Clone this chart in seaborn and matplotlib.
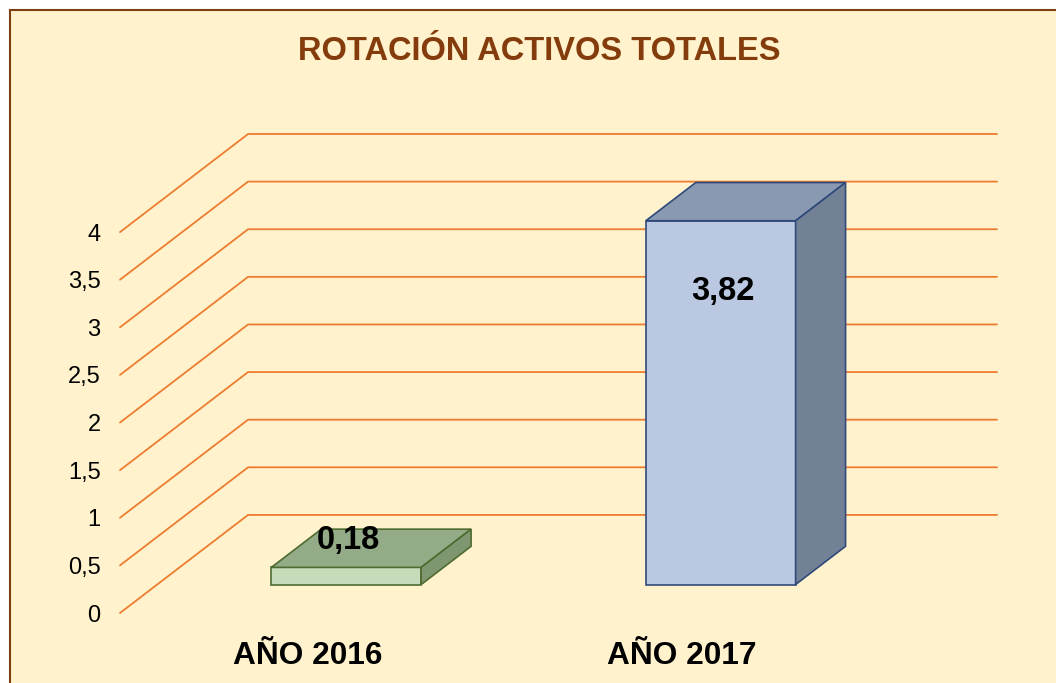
import numpy as np
import pandas as pd
import matplotlib
matplotlib.use("Agg")
import matplotlib.pyplot as plt
from matplotlib.patches import Polygon, Rectangle
import seaborn as sns

# data
categories = ["AÑO 2016", "AÑO 2017"]
values = [0.18, 3.82]
value_labels = ["0,18", "3,82"]
y_ticks = [0, 0.5, 1, 1.5, 2, 2.5, 3, 3.5, 4]
y_tick_labels = ["0", "0,5", "1", "1,5", "2", "2,5", "3", "3,5", "4"]

front_colors = ["#C5E0B4", "#B4C7E7"]
top_colors = ["#93AB86", "#8899B1"]
side_colors = ["#7F9771", "#738196"]
edge_colors = ["#4E6B30", "#2F4A7A"]

grid_color = "#ED7D31"
bg_color = "#FFF2CC"
title_color = "#843C0C"

sns.set_theme(style="white")
plt.rcParams["font.family"] = ["Liberation Sans", "DejaVu Sans"]

fig = plt.figure(figsize=(10.56, 6.83), dpi=100)
fig.patch.set_facecolor("white")
W, H = 1056, 683

# chart area frame (cropped at right / bottom)
fig.patches.append(Rectangle((9.5 / W, -0.1), 1.2, 1 - 10.5 / H + 0.1,
                             transform=fig.transFigure, facecolor=bg_color,
                             edgecolor="#7F3F12", linewidth=1.5, zorder=-5))

# perspective depth offset in data units
depth_x = 0.342
depth_y = 1.03
xmin, xmax = -0.5, 1.5 + depth_x

ax = fig.add_axes([120 / W, 1 - 613 / H, 877 / W, (613 - 134) / H])
ax.set_facecolor("none")
ax.set_zorder(2)

df = pd.DataFrame({"cat": categories, "val": values})
sns.barplot(data=df, x="cat", y="val", hue="cat", palette=front_colors,
            width=0.4, legend=False, ax=ax, zorder=3)

ax.set_xlim(xmin, xmax)
ax.set_ylim(0, 4 + depth_y)

# gridlines with slanted floor/wall part
for v in y_ticks:
    ax.plot([xmin, xmin + depth_x, xmax], [v, v + depth_y, v + depth_y],
            color=grid_color, linewidth=1.3, zorder=1, clip_on=False)

# 3D bars: shift front face into the depth, add top and side faces
f0 = 0.29    # front face position inside the depth
fd = 0.39    # bar depth
ox, oy = f0 * depth_x + 0.005, f0 * depth_y
dx, dy = fd * depth_x, fd * depth_y
for i, p in enumerate(ax.patches):
    x0 = p.get_x() + ox
    w = p.get_width()
    h = p.get_height()
    y0 = oy
    p.set_x(x0)
    p.set_y(y0)
    p.set_edgecolor(edge_colors[i])
    p.set_linewidth(1.2)
    top = [(x0, y0 + h), (x0 + w, y0 + h), (x0 + w + dx, y0 + h + dy), (x0 + dx, y0 + h + dy)]
    side = [(x0 + w, y0), (x0 + w + dx, y0 + dy), (x0 + w + dx, y0 + h + dy), (x0 + w, y0 + h)]
    ax.add_patch(Polygon(top, closed=True, facecolor=top_colors[i],
                         edgecolor=edge_colors[i], linewidth=1.2, zorder=3))
    ax.add_patch(Polygon(side, closed=True, facecolor=side_colors[i],
                         edgecolor=edge_colors[i], linewidth=1.2, zorder=3))
    cx = x0 + w / 2
    if h > 1:
        ly = y0 + h - 0.74
    else:
        ly = y0 + h + 0.28
    ax.text(cx + 0.005, ly, value_labels[i], ha="center", va="center",
            fontsize=23.5, fontweight="bold", color="black", zorder=5)

ax.set_yticks(y_ticks)
ax.set_yticklabels(y_tick_labels, fontsize=17, color="black")
ax.set_xticks([0, 1])
ax.set_xticklabels(categories, fontsize=22.8, fontweight="bold", color="black")
ax.tick_params(axis="y", length=0, pad=14)
ax.tick_params(axis="x", length=0, pad=20)
ax.set_xlabel("")
ax.set_ylabel("")
for s in ax.spines.values():
    s.set_visible(False)

fig.text(539.5 / W, 1 - 52 / H, "ROTACIÓN ACTIVOS TOTALES", ha="center",
         va="center", fontsize=23.5, fontweight="bold", color=title_color)

fig.savefig("out.png", dpi=100, facecolor=fig.get_facecolor())
